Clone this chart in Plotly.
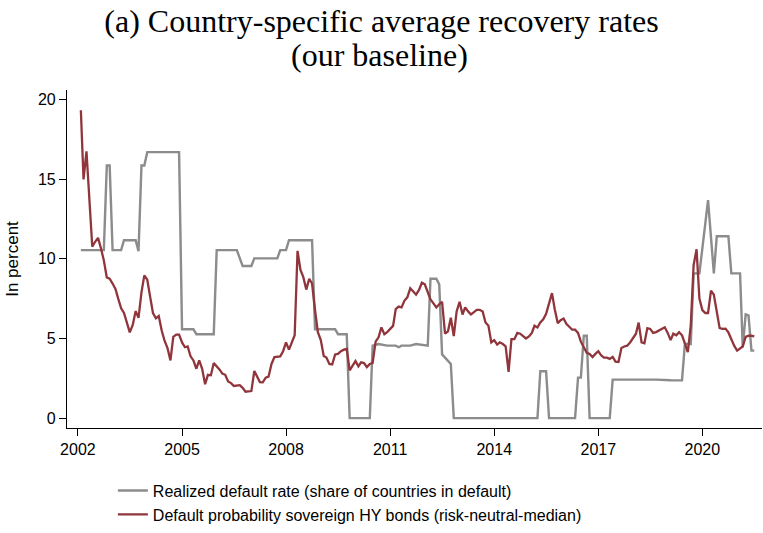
import pandas as pd
import plotly.graph_objects as go

# Realized default rate (share of countries in default), in percent: turning points
realized_dates = [
    "2002-02", "2002-10", "2002-11", "2002-12", "2003-01", "2003-04", "2003-05",
    "2003-09", "2003-10", "2003-11", "2003-12", "2004-01", "2004-12", "2005-01",
    "2005-05", "2005-06", "2005-12", "2006-01", "2006-08", "2006-10", "2007-01",
    "2007-02", "2007-10", "2007-11", "2008-01", "2008-02", "2008-10", "2008-11",
    "2009-06", "2009-07", "2009-10", "2009-11", "2010-06", "2010-07", "2010-09",
    "2010-12", "2011-03", "2011-04", "2011-05", "2011-08", "2011-10", "2012-01",
    "2012-02", "2012-03", "2012-05", "2012-06", "2012-07", "2012-08", "2012-09",
    "2012-10", "2012-11", "2015-04", "2015-05", "2015-07", "2015-08", "2016-05",
    "2016-06", "2016-07", "2016-08", "2016-09", "2016-10", "2017-05", "2017-06",
    "2018-04", "2018-09", "2019-02", "2019-06", "2019-07", "2019-09", "2019-10",
    "2019-12", "2020-03", "2020-04", "2020-05", "2020-06", "2020-10", "2020-11",
    "2021-02", "2021-03", "2021-04", "2021-05", "2021-06", "2021-07",
]
realized_rate = [
    10.55, 10.55, 15.86, 15.86, 10.55, 10.55, 11.17,
    11.17, 10.48, 15.86, 15.86, 16.70, 16.70, 5.58,
    5.58, 5.27, 5.27, 10.55, 10.55, 9.55, 9.55,
    10.03, 10.03, 10.55, 10.55, 11.17, 11.17, 5.58,
    5.58, 5.27, 5.27, 0.0, 0.0, 4.55, 4.65,
    4.55, 4.55, 4.45, 4.55, 4.55, 4.65, 4.55,
    4.55, 8.75, 8.75, 8.40, 4.00, 3.80, 3.60,
    3.40, 0.0, 0.0, 2.94, 2.94, 0.0, 0.0,
    2.54, 2.54, 5.17, 5.17, 0.0, 0.0, 2.42,
    2.45, 2.42, 2.38, 2.37, 4.65, 4.65, 9.09,
    9.09, 13.69, 11.40, 9.09, 11.42, 11.42, 9.09,
    9.09, 4.45, 6.51, 6.45, 4.24, 4.24,
]

# Default probability of sovereign HY bonds (risk-neutral, median), monthly from 2002-02
hy_start = "2002-02-01"
hy_default_prob = [
    19.33, 14.99, 16.75, 13.6, 10.76, 11.07, 11.32, 10.65, 9.9, 8.83, 8.75,
    8.45, 8.1, 7.5, 6.9, 6.6, 6.0, 5.38, 5.85, 6.72, 6.3, 7.9, 8.96,
    8.69, 7.6, 6.6, 6.27, 6.41, 5.5, 4.86, 4.4, 3.62, 5.1, 5.24, 5.24,
    4.75, 4.45, 4.5, 3.88, 3.62, 3.10, 3.62, 3.1, 2.13, 2.72, 2.69, 3.46,
    3.28, 3.04, 2.79, 2.72, 2.3, 2.2, 2.02, 2.03, 2.07, 1.9, 1.66, 1.68,
    1.70, 2.96, 2.6, 2.26, 2.25, 2.54, 2.6, 3.4, 3.83, 3.85, 3.88, 4.2,
    4.75, 4.3, 4.7, 5.2, 10.5, 9.3, 8.85, 8.07, 8.75, 8.45, 6.8, 5.4,
    4.9, 3.9, 3.8, 3.4, 3.37, 4.0, 4.03, 4.2, 4.3, 4.35, 3.0, 3.31,
    3.58, 3.25, 3.5, 3.46, 3.2, 3.4, 3.46, 4.8, 5.07, 5.7, 5.27, 5.4,
    5.6, 5.79, 6.85, 7.0, 6.95, 7.38, 7.58, 8.15, 7.95, 7.75, 8.05, 8.5,
    8.4, 7.97, 7.45, 7.2, 6.95, 7.15, 7.3, 5.3, 5.45, 6.3, 5.15, 6.7,
    7.3, 6.5, 6.95, 6.7, 6.51, 6.65, 6.8, 6.8, 6.7, 6.0, 5.8, 4.75,
    4.9, 4.62, 4.76, 4.65, 4.5, 2.9, 4.96, 4.96, 5.35, 5.3, 5.15, 5.0,
    5.13, 5.35, 5.8, 5.69, 6.0, 6.2, 6.55, 7.24, 7.85, 6.8, 5.95, 6.15,
    6.25, 5.9, 5.75, 5.55, 5.55, 5.35, 4.8, 4.4, 4.1, 4.03, 3.83, 4.03,
    4.2, 3.93, 3.8, 3.8, 3.72, 3.85, 3.55, 3.52, 4.4, 4.5, 4.55, 4.75,
    5.07, 5.3, 6.0, 4.75, 4.7, 5.65, 5.6, 5.35, 5.4, 5.5, 5.6, 5.7,
    5.35, 4.9, 5.3, 5.2, 5.4, 5.2, 4.7, 4.14, 5.8, 9.6, 10.6, 7.5,
    6.78, 6.6, 6.6, 8.0, 7.75, 6.6, 5.65, 5.6, 5.62, 5.38, 4.95, 4.55,
    4.24, 4.4, 4.5, 5.1, 5.17, 5.17, 5.13,
]
hy_dates = pd.date_range(hy_start, periods=len(hy_default_prob), freq="MS")

year_ticks = [2002, 2005, 2008, 2011, 2014, 2017, 2020]
y_ticks = [0, 5, 10, 15, 20]

names = [
    "Realized default rate (share of countries in default)",
    "Default probability sovereign HY bonds (risk-neutral-median)",
]
title_lines = ["(a) Country-specific average recovery rates", "(our baseline)"]

GREY = "#8c8c8c"
MAROON = "#90353b"
SANS = "Liberation Sans, Arial, Helvetica, sans-serif"
SERIF = "Liberation Serif, Times New Roman, serif"
TITLE_SIZE = 32

fig = go.Figure()
fig.add_trace(go.Scatter(
    x=pd.to_datetime(realized_dates), y=realized_rate, mode="lines", name=names[0],
    line=dict(color=GREY, width=2.4),
))
fig.add_trace(go.Scatter(
    x=hy_dates, y=hy_default_prob, mode="lines", name=names[1],
    line=dict(color=MAROON, width=2.3),
))

# second title line, placed just below the first
fig.add_annotation(
    text=title_lines[1], xref="paper", yref="paper", x=0.45, y=1.104,
    xanchor="center", yanchor="middle", showarrow=False,
    font=dict(family=SERIF, size=TITLE_SIZE, color="black"),
)

fig.update_layout(
    width=763, height=533,
    margin=dict(l=67, r=1, t=90, b=101),
    paper_bgcolor="white", plot_bgcolor="white",
    font=dict(family=SANS, size=16, color="black"),
    title=dict(
        text=title_lines[0],
        font=dict(family=SERIF, size=TITLE_SIZE, color="black"),
        x=0.5, xanchor="center", xref="container",
        y=1 - 21 / 533, yanchor="middle", yref="container",
    ),
    showlegend=True,
    legend=dict(
        orientation="v", x=0.066, xanchor="left", y=-0.135, yanchor="top",
        font=dict(family=SANS, size=16, color="black"),
        bgcolor="rgba(0,0,0,0)", borderwidth=0,
    ),
    xaxis=dict(
        type="date",
        range=["2001-09-08", "2021-09-20"],
        tickvals=[f"{y}-01-01" for y in year_ticks],
        ticktext=[str(y) for y in year_ticks],
        ticks="outside", ticklen=7, tickwidth=1.2, tickcolor="black",
        showline=True, linecolor="black", linewidth=1.2,
        showgrid=False, zeroline=False,
        tickfont=dict(size=16),
    ),
    yaxis=dict(
        range=[-0.62, 20.6],
        tickvals=y_ticks,
        ticktext=[str(v) for v in y_ticks],
        ticks="outside", ticklen=7, tickwidth=1.2, tickcolor="black",
        showline=True, linecolor="black", linewidth=1.2,
        showgrid=False, zeroline=False,
        tickfont=dict(size=16),
        title=dict(text="In percent", font=dict(size=17), standoff=14),
    ),
)

fig.write_html("out.html")
